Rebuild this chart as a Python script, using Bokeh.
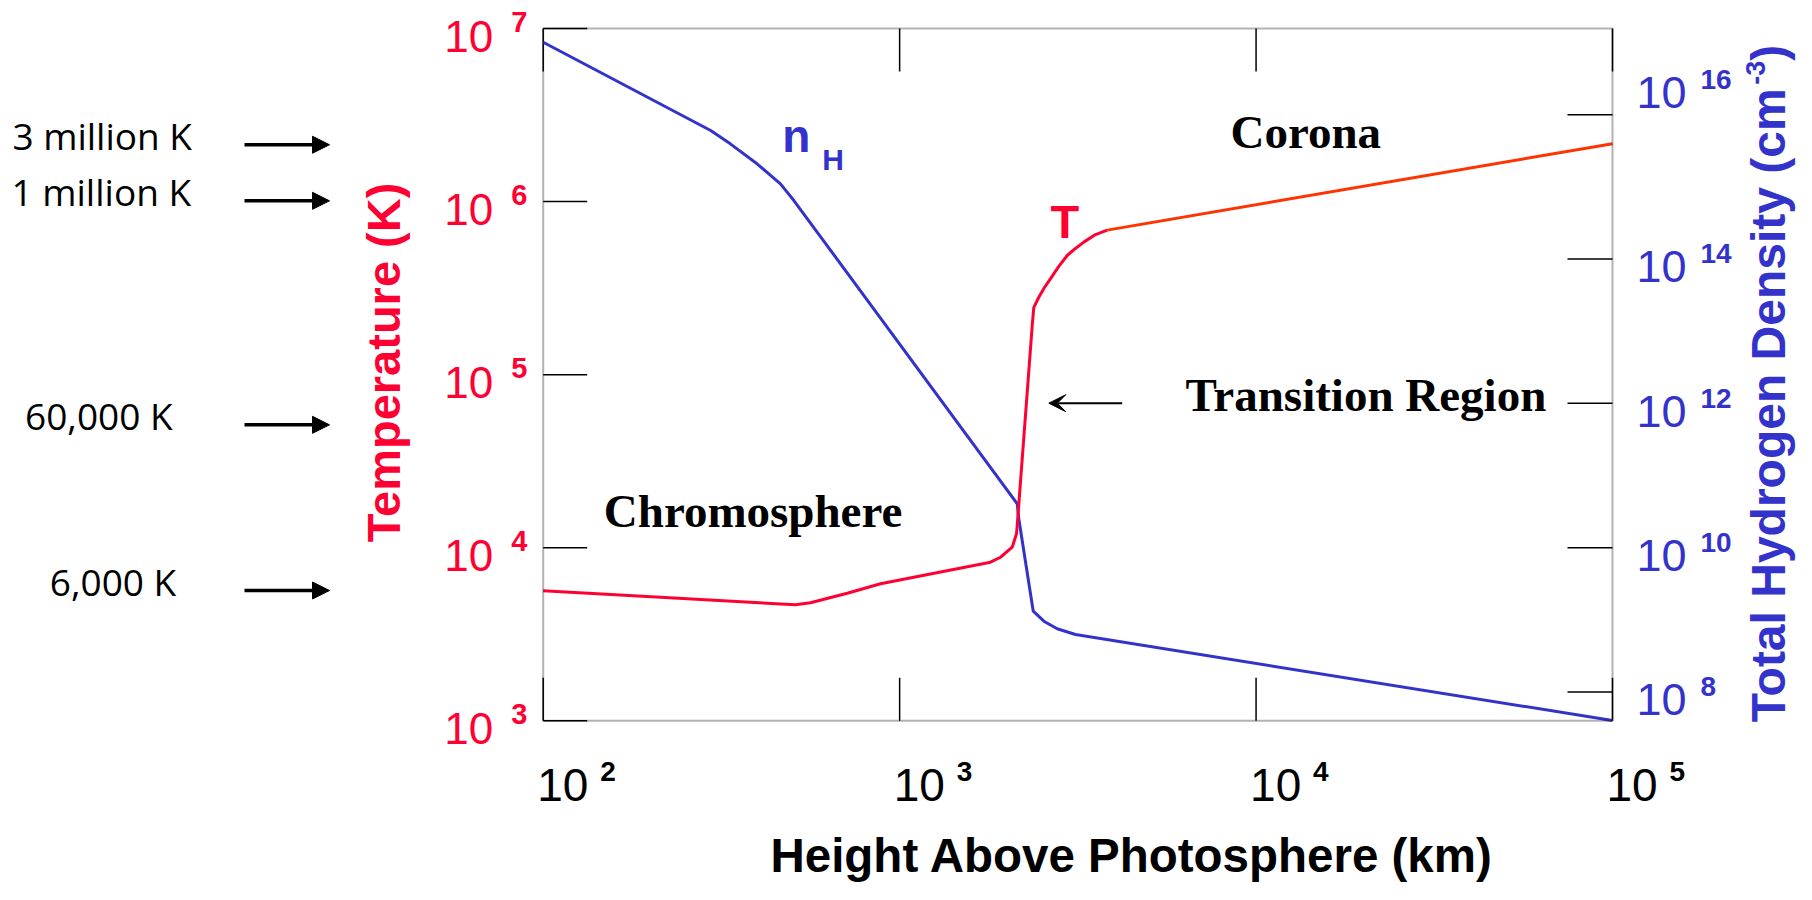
import math
from bokeh.plotting import figure
from bokeh.models import (Range1d, LogScale, BoxAnnotation, Label, Arrow, NormalHead, VeeHead)
from bokeh.embed import file_html
from bokeh.resources import INLINE

# ---------------- data ----------------
x_ticks = [1e2, 1e3, 1e4, 1e5]
T_ticks = [1e3, 1e4, 1e5, 1e6, 1e7]
n_ticks = [1e8, 1e10, 1e12, 1e14, 1e16]

# temperature: chromosphere + transition region (km, K)
T_height = [100, 510, 562, 713, 884, 1798, 1919, 2069, 2128, 2146, 2354, 2379, 2457,
            2539, 2651, 2796, 2952, 3114, 3286, 3544, 3823]
T_value = [5640, 4680, 4810, 5460, 6190, 8250, 8810, 10070, 12030, 15010, 1.90e5, 2.45e5,
           2.80e5, 3.15e5, 3.59e5, 4.22e5, 4.88e5, 5.36e5, 5.83e5, 6.45e5, 6.84e5]
# temperature: corona
corona_height = [3823, 1e5]
corona_T = [6.84e5, 2.16e6]
# total hydrogen density (cm^-3)
n_height = [100, 295, 335, 398, 463, 505, 2138, 2159, 2370, 2539, 2767, 3114, 1e5]
n_value = [1.01e17, 6.05e15, 3.95e15, 2.09e15, 1.10e15, 6.47e14, 4.05e10, 2.51e10,
           1.32e9, 9.56e8, 7.50e8, 6.25e8, 4.02e7]

temp_marks = ["3 million K", "1 million K", "60,000 K", "6,000 K"]
temp_mark_T = [2.13e6, 1.01e6, 5.13e4, 5.66e3]

# limits of the plot box
X_RANGE = (1e2, 1e5)
T_RANGE = (1e3, 1e7)
N_RANGE = (10 ** 7.6, 10 ** 17.195)

# ---------------- layout ----------------
W, H = 1796, 884
F_LEFT, F_RIGHT, F_TOP, F_BOTTOM = 542.7, 1612.0, 28.0, 720.3   # plot box in canvas pixels
BASE_FIX = 0.36   # raise label anchors so the given y is the text baseline

RED = "#FF0033"
ORANGE = "#FF3300"
BLUE = "#3333CC"
SANS = "Liberation Sans"
SERIF = "Liberation Serif"

lx0, lx1 = math.log10(X_RANGE[0]), math.log10(X_RANGE[1])
lt0, lt1 = math.log10(T_RANGE[0]), math.log10(T_RANGE[1])
ln0, ln1 = math.log10(N_RANGE[0]), math.log10(N_RANGE[1])
sx_ = (lx1 - lx0) / (F_RIGHT - F_LEFT)
sT_ = (lt1 - lt0) / (F_BOTTOM - F_TOP)
sN_ = (ln1 - ln0) / (F_BOTTOM - F_TOP)

# canvas-wide ranges, so that the limits above fall on the plot box
x_full = (10 ** (lx0 - F_LEFT * sx_), 10 ** (lx0 + (W - F_LEFT) * sx_))
T_full = (10 ** (lt0 - (H - F_BOTTOM) * sT_), 10 ** (lt0 + F_BOTTOM * sT_))
N_full = (10 ** (ln0 - (H - F_BOTTOM) * sN_), 10 ** (ln0 + F_BOTTOM * sN_))


def page_x(px):
    return 10 ** (lx0 + (px - F_LEFT) * sx_)


def page_T(py):
    return 10 ** (lt0 + (F_BOTTOM - py) * sT_)


p = figure(width=W, height=H, x_axis_type="log", y_axis_type="log",
           x_range=Range1d(*x_full), y_range=Range1d(*T_full),
           extra_y_ranges={"n": Range1d(*N_full)}, extra_y_scales={"n": LogScale()},
           x_axis_location=None, y_axis_location=None,
           output_backend="svg", toolbar_location=None, min_border=0,
           outline_line_color=None, background_fill_color="white", border_fill_color="white")
p.grid.visible = False

# plot box
p.add_layout(BoxAnnotation(left=X_RANGE[0], right=X_RANGE[1], bottom=T_RANGE[0], top=T_RANGE[1],
                           fill_color=None, line_color="black", line_width=2))

# inward tick marks
TICK = dict(length_units="screen", line_color="black", line_width=1.5)
p.ray(x=x_ticks, y=[T_RANGE[0]] * len(x_ticks), length=43, angle=math.pi / 2, **TICK)
p.ray(x=x_ticks, y=[T_RANGE[1]] * len(x_ticks), length=43, angle=-math.pi / 2, **TICK)
p.ray(x=[X_RANGE[0]] * len(T_ticks), y=T_ticks, length=44, angle=0, **TICK)
p.ray(x=[X_RANGE[1]] * len(n_ticks), y=n_ticks, length=45, angle=math.pi, y_range_name="n", **TICK)

# ---------------- curves ----------------
p.line(n_height, n_value, line_color=BLUE, line_width=3, y_range_name="n")
p.line(T_height, T_value, line_color=RED, line_width=3)
p.line(corona_height, corona_T, line_color=ORANGE, line_width=3)


def lab(**kw):
    kw.setdefault("text_font", SANS)
    kw.setdefault("text_baseline", "alphabetic")
    kw.setdefault("text_align", "left")
    fs = float(kw["text_font_size"].replace("px", ""))
    if kw.get("angle", 0):
        kw["x_offset"] = kw.get("x_offset", 0) - BASE_FIX * fs
    else:
        kw["y_offset"] = kw.get("y_offset", 0) + BASE_FIX * fs
    p.add_layout(Label(**kw))


# ---------------- tick labels ----------------
for t in T_ticks:
    e = str(int(round(math.log10(t))))
    lab(x=X_RANGE[0], y=t, text="10", text_align="right", x_offset=-50, y_offset=-24,
        text_font_size="44px", text_color=RED)
    lab(x=X_RANGE[0], y=t, text=e, x_offset=-32, y_offset=-4,
        text_font_size="29px", text_font_style="bold", text_color=RED)

n_nudge = {16: 30}
for t in n_ticks:
    k = int(round(math.log10(t)))
    d = n_nudge.get(k, 0)
    lab(x=X_RANGE[1], y=t, y_range_name="n", text="10", x_offset=24, y_offset=-24 + d,
        text_font_size="45px", text_color=BLUE)
    lab(x=X_RANGE[1], y=t, y_range_name="n", text=str(k), x_offset=88, y_offset=-5 + d,
        text_font_size="28px", text_font_style="bold", text_color=BLUE)

for t in x_ticks:
    e = str(int(round(math.log10(t))))
    lab(x=t, y=T_RANGE[0], text="10", x_offset=-6, y_offset=-81,
        text_font_size="46px", text_color="black")
    lab(x=t, y=T_RANGE[0], text=e, x_offset=57, y_offset=-61,
        text_font_size="28px", text_font_style="bold", text_color="black")

# ---------------- axis titles ----------------
lab(x=page_x(1131.5), y=page_T(872), text="Height Above Photosphere (km)", text_align="center",
    text_font_size="47.5px", text_font_style="bold", text_color="black")
lab(x=page_x(400.4), y=page_T(541.7), angle=math.pi / 2, text="Temperature (K)",
    text_font_size="47px", text_font_style="bold", text_color=RED)

main_title = "Total Hydrogen Density (cm"
main_len = 13.28 * 48
lab(x=page_x(1785), y=page_T(721.7), angle=math.pi / 2, text=main_title,
    text_font_size="48px", text_font_style="bold", text_color=BLUE)
lab(x=page_x(1765), y=page_T(721.7 - main_len), angle=math.pi / 2, text="-3",
    text_font_size="27px", text_font_style="bold", text_color=BLUE)
lab(x=page_x(1785), y=page_T(721.7 - main_len - 0.889 * 27), angle=math.pi / 2, text=")",
    text_font_size="48px", text_font_style="bold", text_color=BLUE)

# ---------------- region and curve labels ----------------
lab(x=page_x(603.3), y=page_T(527.3), text="Chromosphere", text_font=SERIF,
    text_font_size="47px", text_font_style="bold", text_color="black")
lab(x=page_x(1230), y=page_T(148.3), text="Corona", text_font=SERIF,
    text_font_size="47px", text_font_style="bold", text_color="black")
lab(x=page_x(1185), y=page_T(411.7), text="Transition Region", text_font=SERIF,
    text_font_size="47px", text_font_style="bold", text_color="black")
lab(x=page_x(781.7), y=page_T(151.7), text="n", text_font_size="46px",
    text_font_style="bold", text_color=BLUE)
lab(x=page_x(821.7), y=page_T(170), text="H", text_font_size="30px",
    text_font_style="bold", text_color=BLUE)
lab(x=page_x(1050), y=page_T(238.3), text="T", text_font_size="47px",
    text_font_style="bold", text_color=RED)

p.add_layout(Arrow(x_start=page_x(1121.7), x_end=page_x(1048.3),
                   y_start=page_T(402.7), y_end=page_T(402.7), line_width=2, line_color="black",
                   end=VeeHead(size=17, fill_color="black", line_color="black", line_width=1)))

# ---------------- temperature marks on the left ----------------
mark_centers = [101.7, 100.8, 98.3, 112.5]
for txt, tv, cx in zip(temp_marks, temp_mark_T, mark_centers):
    lab(x=page_x(cx), y=tv, y_offset=-4, text=txt, text_align="center",
        text_font="Open Sans", text_font_size="37px", text_color="black")
    p.add_layout(Arrow(x_start=page_x(244), x_end=page_x(329), y_start=tv, y_end=tv,
                       line_width=3.5, line_color="black",
                       end=NormalHead(size=17, fill_color="black", line_color="black",
                                      line_width=1)))

open("out.html", "w").write(file_html(p, INLINE))
